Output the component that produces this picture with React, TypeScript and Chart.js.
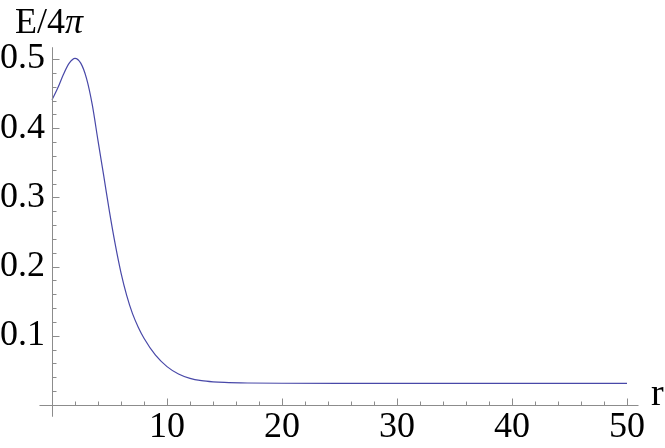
import React, { useEffect, useRef } from 'react';
import { Chart, registerables } from 'chart.js';

Chart.register(...registerables);

const rValues = [0, 0.5, 1, 1.5, 2, 2.5, 3, 3.5, 4, 4.5, 5, 5.5, 6, 6.5, 7, 7.5, 8, 9, 10, 11, 12, 13, 14, 15, 17, 20, 25, 30, 40, 50];
const energyValues = [0.441, 0.458, 0.478, 0.494, 0.501, 0.494, 0.472, 0.434, 0.382, 0.331, 0.279, 0.232, 0.191, 0.158, 0.132, 0.1125, 0.0965, 0.072, 0.0555, 0.0448, 0.0385, 0.0352, 0.0335, 0.0326, 0.0318, 0.0314, 0.0313, 0.0313, 0.0313, 0.0313];
const xTickLabels = ['10', '20', '30', '40', '50'];
const yTickLabels = ['0.1', '0.2', '0.3', '0.4', '0.5'];
const yTitleMain = 'E/4';
const yTitleItalic = 'π';
const xTitle = 'r';

const FONT = '"Liberation Serif", "Times New Roman", serif';
const AXIS_COLOR = '#8c8c8c';
const LINE_COLOR = '#4848a8';

const near = (a: number, b: number) => Math.abs(a - b) < 1e-6;

const axesPlugin = {
  id: 'mmaAxes',
  afterDraw(chart: any) {
    const { ctx } = chart;
    const xs = chart.scales.x;
    const ys = chart.scales.y;
    const x0 = Math.round(xs.getPixelForValue(0)) + 0.5;
    const y0 = Math.round(ys.getPixelForValue(0)) + 0.5;
    ctx.save();
    ctx.strokeStyle = AXIS_COLOR;
    ctx.lineWidth = 1;
    ctx.beginPath();
    ctx.moveTo(xs.getPixelForValue(-1.09), y0);
    ctx.lineTo(xs.getPixelForValue(51.0), y0);
    ctx.moveTo(x0, ys.getPixelForValue(-0.017));
    ctx.lineTo(x0, ys.getPixelForValue(0.517));
    xs.ticks.forEach((t: any) => {
      const v = t.value;
      if (near(v, 0) || !near(v / 2, Math.round(v / 2))) return;
      const major = near(v / 10, Math.round(v / 10));
      const px = Math.round(xs.getPixelForValue(v)) + 0.5;
      ctx.moveTo(px, y0);
      ctx.lineTo(px, y0 - (major ? 7 : 4));
    });
    ys.ticks.forEach((t: any) => {
      const v = t.value;
      if (near(v, 0) || !near(v / 0.02, Math.round(v / 0.02))) return;
      const major = near(v / 0.1, Math.round(v / 0.1));
      const py = Math.round(ys.getPixelForValue(v)) + 0.5;
      ctx.moveTo(x0, py);
      ctx.lineTo(x0 + (major ? 7 : 4), py);
    });
    ctx.stroke();

    ctx.fillStyle = '#000';
    ctx.textBaseline = 'alphabetic';
    ctx.textAlign = 'left';
    ctx.font = `36px ${FONT}`;
    ctx.fillText(yTitleMain, 15, 33);
    const w = ctx.measureText(yTitleMain).width;
    ctx.font = `italic 36px ${FONT}`;
    ctx.fillText(yTitleItalic, 15 + w, 33);
    ctx.font = `38px ${FONT}`;
    ctx.fillText(xTitle, 651, 405);
    ctx.restore();
  },
};

export default function App() {
  const ref = useRef<HTMLCanvasElement | null>(null);
  useEffect(() => {
    if (!ref.current) return;
    const chart = new Chart(ref.current, {
      type: 'line',
      data: {
        datasets: [
          {
            data: rValues.map((r, i) => ({ x: r, y: energyValues[i] })),
            borderColor: LINE_COLOR,
            borderWidth: 1.2,
            pointRadius: 0,
            fill: false,
            cubicInterpolationMode: 'monotone',
            clip: false,
          } as any,
        ],
      },
      options: {
        animation: false,
        responsive: false,
        events: [],
        layout: { padding: { top: 59, right: 38, bottom: 0, left: 0 } },
        plugins: { legend: { display: false }, tooltip: { enabled: false }, title: { display: false } },
        scales: {
          x: {
            type: 'linear',
            position: 'bottom',
            min: 0,
            max: 50,
            afterFit: (s: any) => { s.height = 43; },
            grid: { display: false, drawTicks: false },
            border: { display: false },
            ticks: {
              stepSize: 2,
              autoSkip: false,
              maxRotation: 0,
              padding: 1,
              color: '#000',
              font: { family: FONT, size: 36 },
              callback: (v: any) => {
                const s = String(Math.round(Number(v)));
                return near(Number(v) / 10, Math.round(Number(v) / 10)) && xTickLabels.includes(s) ? s : '';
              },
            },
          },
          y: {
            type: 'linear',
            position: 'left',
            min: 0,
            max: 0.5,
            afterFit: (s: any) => { s.width = 52; },
            grid: { display: false, drawTicks: false },
            border: { display: false },
            ticks: {
              stepSize: 0.02,
              autoSkip: false,
              padding: 7,
              color: '#000',
              font: { family: FONT, size: 36 },
              callback: (v: any) => {
                const n = Number(v);
                if (!near(n / 0.1, Math.round(n / 0.1))) return '';
                const s = (Math.round(n * 10) / 10).toFixed(1);
                return yTickLabels.includes(s) ? s : '';
              },
            },
          },
        },
      },
      plugins: [axesPlugin],
    });
    return () => chart.destroy();
  }, []);
  return (
    <div style={{ position: 'absolute', left: 0, top: 0, width: 665, height: 448, background: '#fff' }}>
      <canvas ref={ref} width={665} height={448} style={{ display: 'block' }} />
    </div>
  );
}
